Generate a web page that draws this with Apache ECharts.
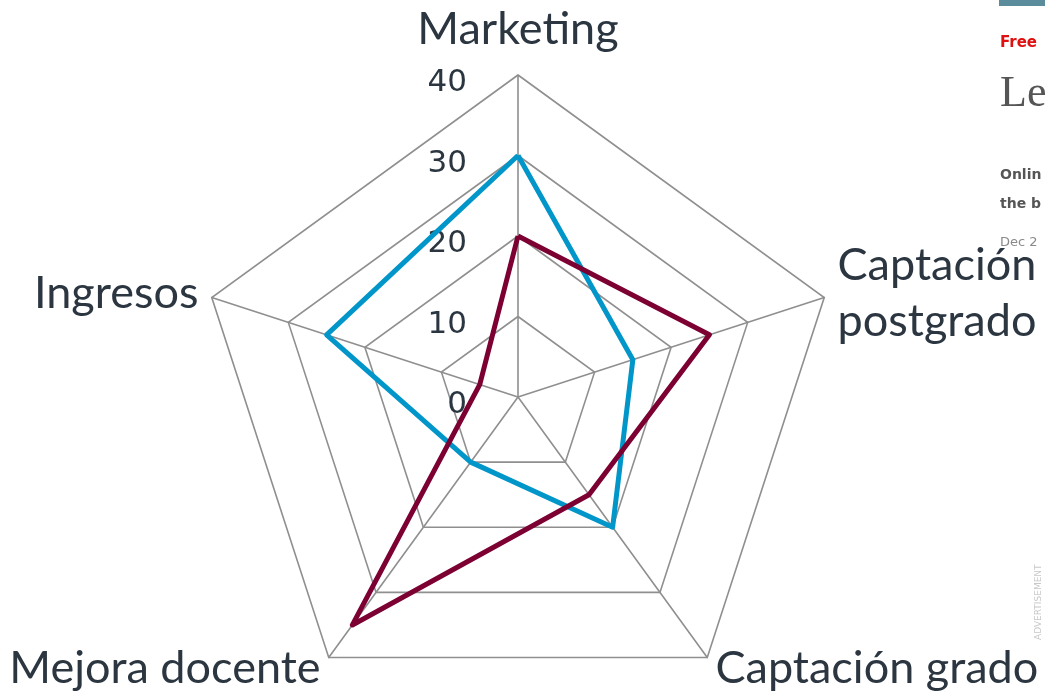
<!DOCTYPE html>
<html>
<head>
<meta charset="utf-8">
<title>Radar</title>
<script src="https://cdn.jsdelivr.net/npm/echarts@6/dist/echarts.min.js"></script>
<style>
  html, body { margin: 0; padding: 0; background: #ffffff; }
  #chart { width: 1045px; height: 694px; }
</style>
</head>
<body>
<div id="chart"></div>
<script>
// indicators in the order ECharts places them (counter-clockwise from the top)
const indicatorNames = ['Marketing', 'Ingresos', 'Mejora docente', 'Captación grado', 'Captación\npostgrado'];
const axisMax = 40;
const tickValues = [0, 10, 20, 30, 40];
const blueValues = [30, 25, 10, 20, 15];
const redValues = [20, 5, 35, 15, 25];

const textColor = '#2b3641';
const gridColor = '#8f8f8f';

const chart = echarts.init(document.getElementById('chart'), null, { renderer: 'canvas' });

const option = {
  backgroundColor: '#ffffff',
  animation: false,
  radar: {
    center: [518, 397],
    radius: 322,
    startAngle: 90,
    shape: 'polygon',
    splitNumber: tickValues.length - 1,
    axisName: {
      color: textColor,
      fontFamily: 'Lato',
      fontSize: 45,
      lineHeight: 56
    },
    nameGap: 14,
    axisLine: { lineStyle: { color: gridColor, width: 1.6 } },
    splitLine: { lineStyle: { color: gridColor, width: 1.6 } },
    splitArea: { show: false },
    axisTick: { show: false },
    axisLabel: { show: false },
    indicator: indicatorNames.map((name, i) => {
      const ind = { name: name, min: 0, max: axisMax };
      if (i === 0) {
        // tick labels only along the Marketing axis, sitting a bit below each ring
        ind.nameGap = 18;
        ind.axisLabel = {
          show: true,
          color: textColor,
          fontFamily: 'DejaVu Sans',
          fontSize: 31,
          margin: 51,
          verticalAlign: 'top',
          lineHeight: 16
        };
      }
      return ind;
    })
  },
  series: [{
    type: 'radar',
    symbol: 'none',
    data: [
      { value: blueValues, lineStyle: { color: '#0096c9', width: 5 } },
      { value: redValues, lineStyle: { color: '#7c0032', width: 5 } }
    ]
  }],
  graphic: [
    { type: 'rect', shape: { x: 999, y: 0, width: 46, height: 6 }, style: { fill: '#5b8c9c' } },
    { type: 'text', x: 1000, y: 36, style: { text: 'Free', fill: '#e01010', font: 'bold 15px "DejaVu Sans"' } },
    { type: 'text', x: 1000, y: 72, style: { text: 'Le', fill: '#555555', font: '44px "Liberation Serif"' } },
    { type: 'text', x: 1000, y: 168, style: { text: 'Onlin', fill: '#555555', font: 'bold 14px "DejaVu Sans"' } },
    { type: 'text', x: 1000, y: 197, style: { text: 'the b', fill: '#555555', font: 'bold 14px "DejaVu Sans"' } },
    { type: 'text', x: 1000, y: 236, style: { text: 'Dec 2', fill: '#8a8a8a', font: '13px "DejaVu Sans"' } },
    { type: 'text', x: 1034, y: 640, rotation: Math.PI / 2, style: { text: 'ADVERTISEMENT', fill: '#c8c8c8', font: '9px "DejaVu Sans"' } }
  ]
};

chart.setOption(option);
</script>
</body>
</html>
